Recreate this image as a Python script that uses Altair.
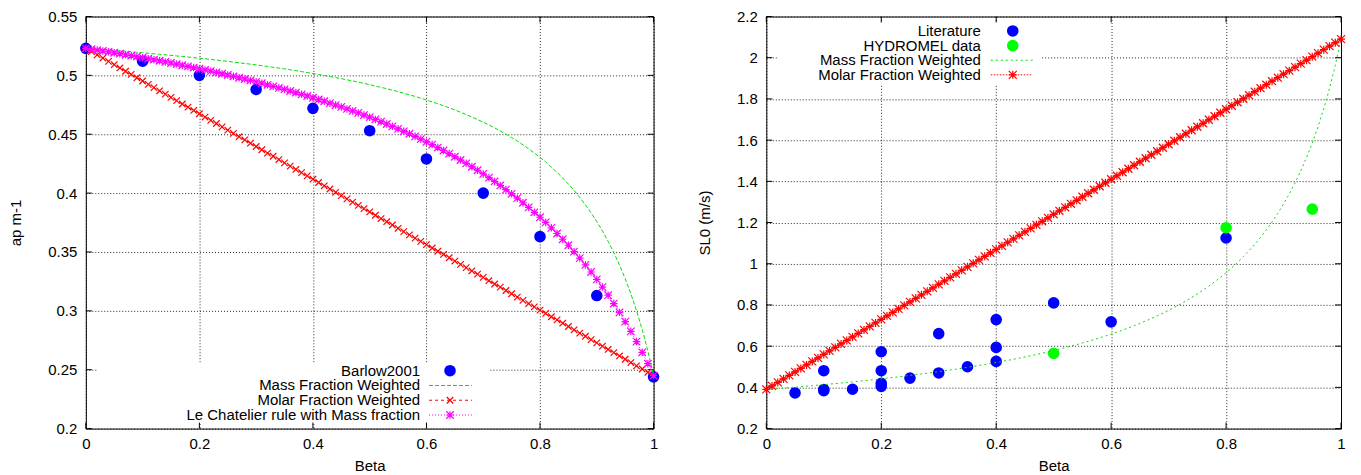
import altair as alt
import pandas as pd

# ---------------- data ----------------
beta = [
    0.00, 0.01, 0.02, 0.03, 0.04, 0.05, 0.06, 0.07, 0.08, 0.09,
    0.10, 0.11, 0.12, 0.13, 0.14, 0.15, 0.16, 0.17, 0.18, 0.19,
    0.20, 0.21, 0.22, 0.23, 0.24, 0.25, 0.26, 0.27, 0.28, 0.29,
    0.30, 0.31, 0.32, 0.33, 0.34, 0.35, 0.36, 0.37, 0.38, 0.39,
    0.40, 0.41, 0.42, 0.43, 0.44, 0.45, 0.46, 0.47, 0.48, 0.49,
    0.50, 0.51, 0.52, 0.53, 0.54, 0.55, 0.56, 0.57, 0.58, 0.59,
    0.60, 0.61, 0.62, 0.63, 0.64, 0.65, 0.66, 0.67, 0.68, 0.69,
    0.70, 0.71, 0.72, 0.73, 0.74, 0.75, 0.76, 0.77, 0.78, 0.79,
    0.80, 0.81, 0.82, 0.83, 0.84, 0.85, 0.86, 0.87, 0.88, 0.89,
    0.90, 0.91, 0.92, 0.93, 0.94, 0.95, 0.96, 0.97, 0.98, 0.99,
    1.00,
]

# left panel
barlow_beta = [0.0, 0.1, 0.2, 0.3, 0.4, 0.5, 0.6, 0.7, 0.8, 0.9, 1.0]
barlow_ap = [0.523, 0.512, 0.500, 0.488, 0.472, 0.453, 0.429, 0.400, 0.363, 0.313, 0.244]

mass_ap = [
    0.5230, 0.5226, 0.5223, 0.5219, 0.5216, 0.5212, 0.5208, 0.5204, 0.5200, 0.5196,
    0.5192, 0.5188, 0.5183, 0.5179, 0.5175, 0.5170, 0.5165, 0.5161, 0.5156, 0.5151,
    0.5146, 0.5141, 0.5135, 0.5130, 0.5124, 0.5119, 0.5113, 0.5107, 0.5101, 0.5095,
    0.5089, 0.5082, 0.5076, 0.5069, 0.5062, 0.5055, 0.5047, 0.5040, 0.5032, 0.5024,
    0.5016, 0.5008, 0.4999, 0.4990, 0.4981, 0.4972, 0.4962, 0.4953, 0.4942, 0.4932,
    0.4921, 0.4910, 0.4898, 0.4887, 0.4874, 0.4862, 0.4848, 0.4835, 0.4821, 0.4806,
    0.4791, 0.4775, 0.4759, 0.4742, 0.4725, 0.4706, 0.4687, 0.4667, 0.4647, 0.4625,
    0.4602, 0.4579, 0.4554, 0.4528, 0.4500, 0.4472, 0.4442, 0.4410, 0.4376, 0.4341,
    0.4303, 0.4264, 0.4221, 0.4176, 0.4128, 0.4077, 0.4023, 0.3964, 0.3900, 0.3832,
    0.3758, 0.3678, 0.3590, 0.3495, 0.3390, 0.3274, 0.3145, 0.3001, 0.2840, 0.2658,
    0.2450,
]

molar_ap = [
    0.5230, 0.5202, 0.5174, 0.5147, 0.5119, 0.5091, 0.5063, 0.5035, 0.5008, 0.4980,
    0.4952, 0.4924, 0.4896, 0.4869, 0.4841, 0.4813, 0.4785, 0.4757, 0.4730, 0.4702,
    0.4674, 0.4646, 0.4618, 0.4591, 0.4563, 0.4535, 0.4507, 0.4479, 0.4452, 0.4424,
    0.4396, 0.4368, 0.4340, 0.4313, 0.4285, 0.4257, 0.4229, 0.4201, 0.4174, 0.4146,
    0.4118, 0.4090, 0.4062, 0.4035, 0.4007, 0.3979, 0.3951, 0.3923, 0.3896, 0.3868,
    0.3840, 0.3812, 0.3784, 0.3757, 0.3729, 0.3701, 0.3673, 0.3645, 0.3618, 0.3590,
    0.3562, 0.3534, 0.3506, 0.3479, 0.3451, 0.3423, 0.3395, 0.3367, 0.3340, 0.3312,
    0.3284, 0.3256, 0.3228, 0.3201, 0.3173, 0.3145, 0.3117, 0.3089, 0.3062, 0.3034,
    0.3006, 0.2978, 0.2950, 0.2923, 0.2895, 0.2867, 0.2839, 0.2811, 0.2784, 0.2756,
    0.2728, 0.2700, 0.2672, 0.2645, 0.2617, 0.2589, 0.2561, 0.2533, 0.2506, 0.2478,
    0.2450,
]

lechat_ap = [
    0.5230, 0.5223, 0.5215, 0.5207, 0.5200, 0.5192, 0.5184, 0.5175, 0.5167, 0.5159,
    0.5150, 0.5141, 0.5133, 0.5124, 0.5114, 0.5105, 0.5096, 0.5086, 0.5076, 0.5066,
    0.5056, 0.5046, 0.5036, 0.5025, 0.5014, 0.5003, 0.4992, 0.4980, 0.4969, 0.4957,
    0.4945, 0.4933, 0.4920, 0.4907, 0.4894, 0.4881, 0.4867, 0.4854, 0.4839, 0.4825,
    0.4810, 0.4795, 0.4780, 0.4764, 0.4748, 0.4732, 0.4715, 0.4698, 0.4681, 0.4663,
    0.4645, 0.4626, 0.4607, 0.4587, 0.4567, 0.4546, 0.4525, 0.4504, 0.4482, 0.4459,
    0.4435, 0.4412, 0.4387, 0.4362, 0.4336, 0.4309, 0.4281, 0.4253, 0.4224, 0.4194,
    0.4163, 0.4132, 0.4099, 0.4065, 0.4030, 0.3994, 0.3957, 0.3918, 0.3879, 0.3837,
    0.3795, 0.3751, 0.3705, 0.3657, 0.3608, 0.3557, 0.3503, 0.3448, 0.3390, 0.3330,
    0.3267, 0.3202, 0.3133, 0.3062, 0.2987, 0.2908, 0.2826, 0.2739, 0.2648, 0.2551,
    0.2450,
]

# right panel
lit_beta = [0.05, 0.1, 0.1, 0.1, 0.15, 0.2, 0.2, 0.2, 0.2, 0.25,
            0.3, 0.3, 0.35, 0.4, 0.4, 0.4, 0.5, 0.6, 0.8]
lit_sl = [0.373, 0.481, 0.390, 0.384, 0.391, 0.573, 0.481, 0.420, 0.405, 0.445,
          0.661, 0.470, 0.500, 0.729, 0.594, 0.526, 0.810, 0.718, 1.125]

hyd_beta = [0.5, 0.8, 0.95]
hyd_sl = [0.565, 1.175, 1.265]

mass_sl = [
    0.3900, 0.3921, 0.3943, 0.3965, 0.3988, 0.4011, 0.4035, 0.4058, 0.4083, 0.4108,
    0.4133, 0.4159, 0.4185, 0.4212, 0.4239, 0.4267, 0.4295, 0.4324, 0.4354, 0.4384,
    0.4415, 0.4447, 0.4479, 0.4512, 0.4546, 0.4580, 0.4615, 0.4651, 0.4688, 0.4726,
    0.4764, 0.4804, 0.4844, 0.4886, 0.4928, 0.4972, 0.5017, 0.5063, 0.5110, 0.5158,
    0.5208, 0.5259, 0.5311, 0.5365, 0.5420, 0.5477, 0.5536, 0.5596, 0.5659, 0.5723,
    0.5789, 0.5857, 0.5928, 0.6000, 0.6075, 0.6153, 0.6233, 0.6316, 0.6403, 0.6492,
    0.6584, 0.6680, 0.6780, 0.6883, 0.6991, 0.7103, 0.7220, 0.7341, 0.7468, 0.7600,
    0.7739, 0.7884, 0.8035, 0.8194, 0.8361, 0.8536, 0.8721, 0.8915, 0.9120, 0.9337,
    0.9567, 0.9810, 1.0068, 1.0343, 1.0636, 1.0949, 1.1284, 1.1643, 1.2030, 1.2448,
    1.2900, 1.3391, 1.3926, 1.4511, 1.5154, 1.5863, 1.6650, 1.7528, 1.8514, 1.9629,
    2.0900,
]

molar_sl = [
    0.3900, 0.4070, 0.4240, 0.4410, 0.4580, 0.4750, 0.4920, 0.5090, 0.5260, 0.5430,
    0.5600, 0.5770, 0.5940, 0.6110, 0.6280, 0.6450, 0.6620, 0.6790, 0.6960, 0.7130,
    0.7300, 0.7470, 0.7640, 0.7810, 0.7980, 0.8150, 0.8320, 0.8490, 0.8660, 0.8830,
    0.9000, 0.9170, 0.9340, 0.9510, 0.9680, 0.9850, 1.0020, 1.0190, 1.0360, 1.0530,
    1.0700, 1.0870, 1.1040, 1.1210, 1.1380, 1.1550, 1.1720, 1.1890, 1.2060, 1.2230,
    1.2400, 1.2570, 1.2740, 1.2910, 1.3080, 1.3250, 1.3420, 1.3590, 1.3760, 1.3930,
    1.4100, 1.4270, 1.4440, 1.4610, 1.4780, 1.4950, 1.5120, 1.5290, 1.5460, 1.5630,
    1.5800, 1.5970, 1.6140, 1.6310, 1.6480, 1.6650, 1.6820, 1.6990, 1.7160, 1.7330,
    1.7500, 1.7670, 1.7840, 1.8010, 1.8180, 1.8350, 1.8520, 1.8690, 1.8860, 1.9030,
    1.9200, 1.9370, 1.9540, 1.9710, 1.9880, 2.0050, 2.0220, 2.0390, 2.0560, 2.0730,
    2.0900,
]

x_ticks = [0, 0.2, 0.4, 0.6, 0.8, 1]
left_y_ticks = [0.2, 0.25, 0.3, 0.35, 0.4, 0.45, 0.5, 0.55]
right_y_ticks = [0.2, 0.4, 0.6, 0.8, 1.0, 1.2, 1.4, 1.6, 1.8, 2.0, 2.2]

left_labels = ["Barlow2001", "Mass Fraction Weighted", "Molar Fraction Weighted",
               "Le Chatelier rule with Mass fraction"]
right_labels = ["Literature", "HYDROMEL data", "Mass Fraction Weighted",
                "Molar Fraction Weighted"]

# ---------------- styling ----------------
FONT = "Liberation Sans"
FS = 15
H = 413
W_L = 569
W_R = 576
BLUE = "#0000FF"
GREEN_PT = "#00FF00"
GREEN_LN = "#00E000"
RED = "#FF0000"
MAGENTA = "#FF00FF"
X_SHAPE = "M-1,-1L1,1M-1,1L1,-1"
STAR_SHAPE = "M-1,-1L1,1M-1,1L1,-1M0,-1L0,1M-1,0L1,0"


def x_axis():
    return alt.Axis(values=x_ticks, format="~g", title="Beta", grid=True, ticks=False,
                    domain=False, labelFont=FONT, labelFontSize=FS, labelColor="black",
                    labelPadding=8, labelFlush=False, labelOverlap=False,
                    titleFont=FONT, titleFontSize=FS, titleFontWeight="normal",
                    titleColor="black", titlePadding=7,
                    gridColor="black", gridDash=[1, 2], gridOpacity=0.85, gridWidth=1)


def y_axis(ticks, title):
    return alt.Axis(values=ticks, format="~g", title=title, grid=True, ticks=False,
                    domain=False, labelFont=FONT, labelFontSize=FS, labelColor="black",
                    labelPadding=9, labelFlush=False, labelOverlap=False,
                    titleFont=FONT, titleFontSize=FS, titleFontWeight="normal",
                    titleColor="black", titlePadding=24,
                    gridColor="black", gridDash=[1, 2], gridOpacity=0.85, gridWidth=1)


def panel(width, ydom, yticks, ytitle, data_layers, legend_spec):
    xs = alt.Scale(domain=[0, 1], nice=False, zero=False)
    ys = alt.Scale(domain=ydom, nice=False, zero=False)
    X = lambda: alt.X("beta:Q", scale=xs, axis=x_axis())
    Y = lambda: alt.Y("v:Q", scale=ys, axis=y_axis(yticks, ytitle))

    one = pd.DataFrame({"a": [0]})
    layers = []

    # white legend background (hides the grid like the original key)
    bx0, bx1, by0, by1 = legend_spec["box"]
    layers.append(alt.Chart(one).mark_rect(color="white").encode(
        x=alt.value(bx0), x2=alt.value(bx1), y=alt.value(by0), y2=alt.value(by1)))

    # inward tick marks on all four sides
    yt = pd.DataFrame({"v": yticks})
    xt = pd.DataFrame({"beta": x_ticks})
    layers.append(alt.Chart(yt).mark_rule(color="black", strokeWidth=1).encode(
        y=Y(), x=alt.value(0), x2=alt.value(6)))
    layers.append(alt.Chart(yt).mark_rule(color="black", strokeWidth=1).encode(
        y=Y(), x=alt.value(width - 6), x2=alt.value(width)))
    layers.append(alt.Chart(xt).mark_rule(color="black", strokeWidth=1).encode(
        x=X(), y=alt.value(H - 6), y2=alt.value(H)))
    layers.append(alt.Chart(xt).mark_rule(color="black", strokeWidth=1).encode(
        x=X(), y=alt.value(0), y2=alt.value(6)))

    for kind, xs_, ys_, style in data_layers:
        df = pd.DataFrame({"beta": xs_, "v": ys_})
        if kind == "circle":
            layers.append(alt.Chart(df).mark_circle(
                color=style["color"], size=135, opacity=1).encode(x=X(), y=Y()))
        elif kind == "line":
            layers.append(alt.Chart(df).mark_line(
                color=style["color"], strokeWidth=1, strokeDash=style["dash"]).encode(
                x=X(), y=Y(), order="beta:Q"))
            if style.get("shape"):
                layers.append(alt.Chart(df).mark_point(
                    shape=style["shape"], filled=False, color=style["color"],
                    strokeWidth=1.2, size=style["size"], opacity=1).encode(x=X(), y=Y()))

    # key
    tx, sx, lx0, lx1, y0, dy = legend_spec["pos"]
    for i, (label, style) in enumerate(zip(legend_spec["labels"], legend_spec["styles"])):
        yy = y0 + dy * i
        layers.append(alt.Chart(pd.DataFrame({"t": [label]})).mark_text(
            align="right", baseline="middle", font=FONT, fontSize=FS, color="black").encode(
            x=alt.value(tx), y=alt.value(yy), text="t:N"))
        if style["kind"] == "circle":
            layers.append(alt.Chart(one).mark_circle(
                color=style["color"], size=135, opacity=1).encode(
                x=alt.value(sx), y=alt.value(yy)))
        else:
            layers.append(alt.Chart(one).mark_rule(
                color=style["color"], strokeWidth=1, strokeDash=style["dash"]).encode(
                x=alt.value(lx0), x2=alt.value(lx1), y=alt.value(yy)))
            if style.get("shape"):
                layers.append(alt.Chart(one).mark_point(
                    shape=style["shape"], filled=False, color=style["color"],
                    strokeWidth=1.2, size=style["size"], opacity=1).encode(
                    x=alt.value(sx), y=alt.value(yy)))

    return alt.layer(*layers).properties(width=width, height=H)


left_styles = [
    {"kind": "circle", "color": BLUE},
    {"kind": "line", "color": GREEN_LN, "dash": [4, 2]},
    {"kind": "line", "color": RED, "dash": [3, 3], "shape": X_SHAPE, "size": 42},
    {"kind": "line", "color": MAGENTA, "dash": [1, 2], "shape": STAR_SHAPE, "size": 56},
]
left = panel(
    W_L, [0.2, 0.55], left_y_ticks, "ap m-1",
    [
        ("circle", barlow_beta, barlow_ap, left_styles[0]),
        ("line", beta, mass_ap, left_styles[1]),
        ("line", beta, molar_ap, left_styles[2]),
        ("line", beta, lechat_ap, left_styles[3]),
    ],
    {"box": (12, 404, 347, 407), "pos": (335, 365, 344, 387, 355, 14.8),
     "labels": left_labels, "styles": left_styles},
)

right_styles = [
    {"kind": "circle", "color": BLUE},
    {"kind": "circle", "color": GREEN_PT},
    {"kind": "line", "color": GREEN_LN, "dash": [2, 3]},
    {"kind": "line", "color": RED, "dash": [1.5, 1.5], "shape": STAR_SHAPE, "size": 64},
]
right = panel(
    W_R, [0.2, 2.2], right_y_ticks, "SL0 (m/s)",
    [
        ("circle", lit_beta, lit_sl, right_styles[0]),
        ("circle", hyd_beta, hyd_sl, right_styles[1]),
        ("line", beta, mass_sl, right_styles[2]),
        ("line", beta, molar_sl, right_styles[3]),
    ],
    {"box": (12, 275, 6, 68), "pos": (215, 247, 225, 267, 14.5, 14.65),
     "labels": right_labels, "styles": right_styles},
)

chart = alt.hconcat(left, right, spacing=36).properties(
    padding={"left": 0, "top": 0, "right": 5, "bottom": 0},
    background="white",
).configure_view(stroke="black", strokeWidth=1)

chart.save("out.html", embed_options={"renderer": "svg", "actions": False})
